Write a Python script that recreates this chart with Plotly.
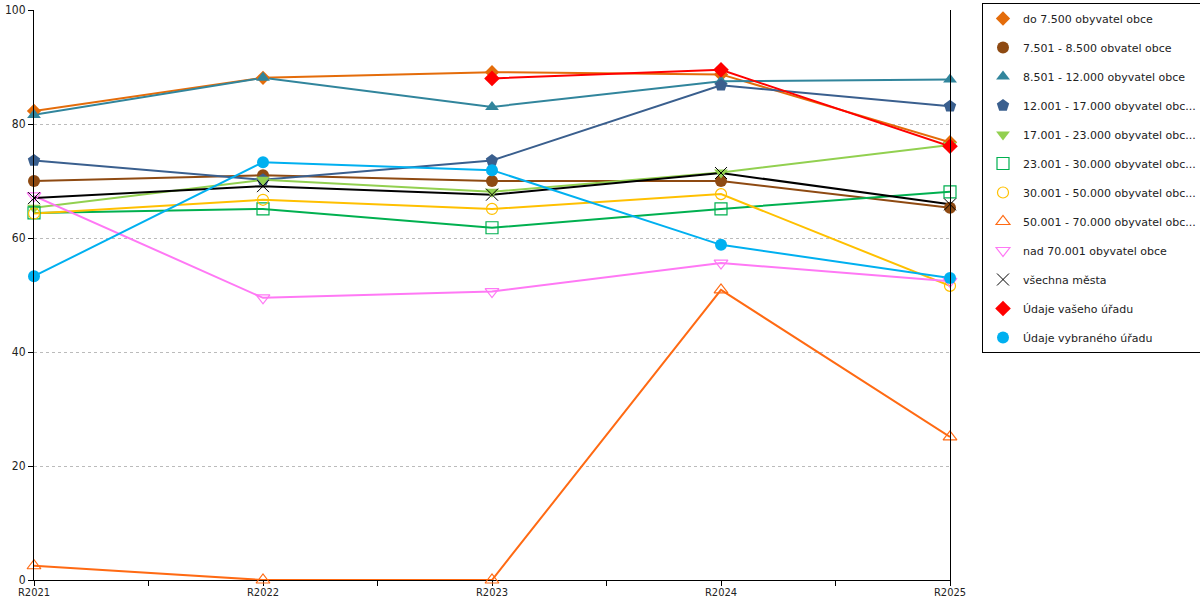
import plotly.graph_objects as go

categories = ["R2021", "R2022", "R2023", "R2024", "R2025"]

names = [
    "do 7.500 obyvatel obce",
    "7.501 - 8.500 obvatel obce",
    "8.501 - 12.000 obyvatel obce",
    "12.001 - 17.000 obyvatel obc...",
    "17.001 - 23.000 obyvatel obc...",
    "23.001 - 30.000 obyvatel obc...",
    "30.001 - 50.000 obyvatel obc...",
    "50.001 - 70.000 obyvatel obc...",
    "nad 70.001 obyvatel obce",
    "všechna města",
    "Údaje vašeho úřadu",
    "Údaje vybraného úřadu",
]

s_do7500 = [82.3, 88.1, 89.1, 88.7, 76.8]
s_7501 = [70.0, 71.0, 70.0, 70.0, 65.3]
s_8501 = [81.6, 88.1, 83.0, 87.5, 87.8]
s_12001 = [73.6, 70.2, 73.6, 86.8, 83.1]
s_17001 = [65.3, 70.2, 68.1, 71.5, 76.3]
s_23001 = [64.4, 65.1, 61.8, 65.1, 68.1]
s_30001 = [64.3, 66.7, 65.1, 67.7, 51.6]
s_50001 = [2.5, 0.0, 0.0, 50.9, 25.1]
s_nad70001 = [67.4, 49.5, 50.6, 55.6, 52.4]
s_vsechna = [67.0, 69.1, 67.6, 71.4, 65.9]
s_vas = [None, None, 88.0, 89.5, 76.1]
s_vybrany = [53.3, 73.3, 71.9, 58.8, 53.0]

series = [s_do7500, s_7501, s_8501, s_12001, s_17001, s_23001,
          s_30001, s_50001, s_nad70001, s_vsechna, s_vas, s_vybrany]

colors = ["#E46C0A", "#8E4A12", "#31859C", "#3A5F8E", "#92D050", "#00B050",
          "#FFC000", "#FF6A13", "#FF78F5", "#000000", "#FF0000", "#00B0F0"]
symbols = ["diamond", "circle", "triangle-up", "pentagon", "triangle-down",
           "square-open", "circle-open", "triangle-up-open", "triangle-down-open",
           "x-thin", "diamond", "circle"]
sizes = [11, 12, 12, 13, 12, 12, 11, 12, 12, 12, 12, 12]

xs = list(range(len(categories)))

fig = go.Figure()
for name, vals, col in zip(names, series, colors):
    fig.add_trace(go.Scatter(x=xs, y=vals, mode="lines", name=name,
                             line=dict(color=col, width=2), cliponaxis=False,
                             showlegend=False, hoverinfo="skip"))
for i, (name, vals, col, sym, sz) in enumerate(zip(names, series, colors, symbols, sizes)):
    mk = dict(color=col, symbol=sym, size=sz)
    if sym == "x-thin":
        mk["line"] = dict(color=col, width=1)
    elif sym.endswith("-open"):
        mk["line"] = dict(color=col, width=1.2)
    fig.add_trace(go.Scatter(x=xs, y=vals, mode="markers", name=name,
                             marker=mk, cliponaxis=False, legendgroup="g%d" % i))

fig.update_layout(
    width=1200, height=600,
    margin=dict(l=34, r=250, t=10, b=20, autoexpand=False),
    plot_bgcolor="white", paper_bgcolor="white",
    font=dict(family="DejaVu Sans", size=12, color="#222222"),
    legend=dict(xref="container", yref="container",
                x=982 / 1200, xanchor="left", y=1 - 3 / 600, yanchor="top",
                bordercolor="#000000", borderwidth=1, bgcolor="white",
                font=dict(family="DejaVu Sans", size=11, color="#222222"),
                tracegroupgap=10, traceorder="grouped", itemwidth=30,
                maxheight=1),
    xaxis=dict(range=[0, 4], tickvals=xs, ticktext=categories, automargin=False,
               showgrid=False, zeroline=False, showline=True, linecolor="black",
               linewidth=1, ticks="outside", ticklen=5, tickcolor="black",
               ticklabelstandoff=-3, layer="below traces",
               tickfont=dict(family="DejaVu Sans Condensed, DejaVu Sans", size=11),
               minor=dict(dtick=0.5, tick0=0, ticks="outside", ticklen=5, tickcolor="black")),
    yaxis=dict(range=[0, 100], dtick=20, showgrid=True, gridcolor="#BBBBBB", automargin=False,
               griddash="dot", zeroline=False, showline=True, mirror=True,
               linecolor="black", linewidth=1, ticks="outside", ticklen=5,
               tickcolor="black",
               tickfont=dict(family="DejaVu Sans Condensed, DejaVu Sans", size=12)),
)

fig.write_html("out.html", config={"displayModeBar": False},
               post_script="document.body.style.margin='0px';")
